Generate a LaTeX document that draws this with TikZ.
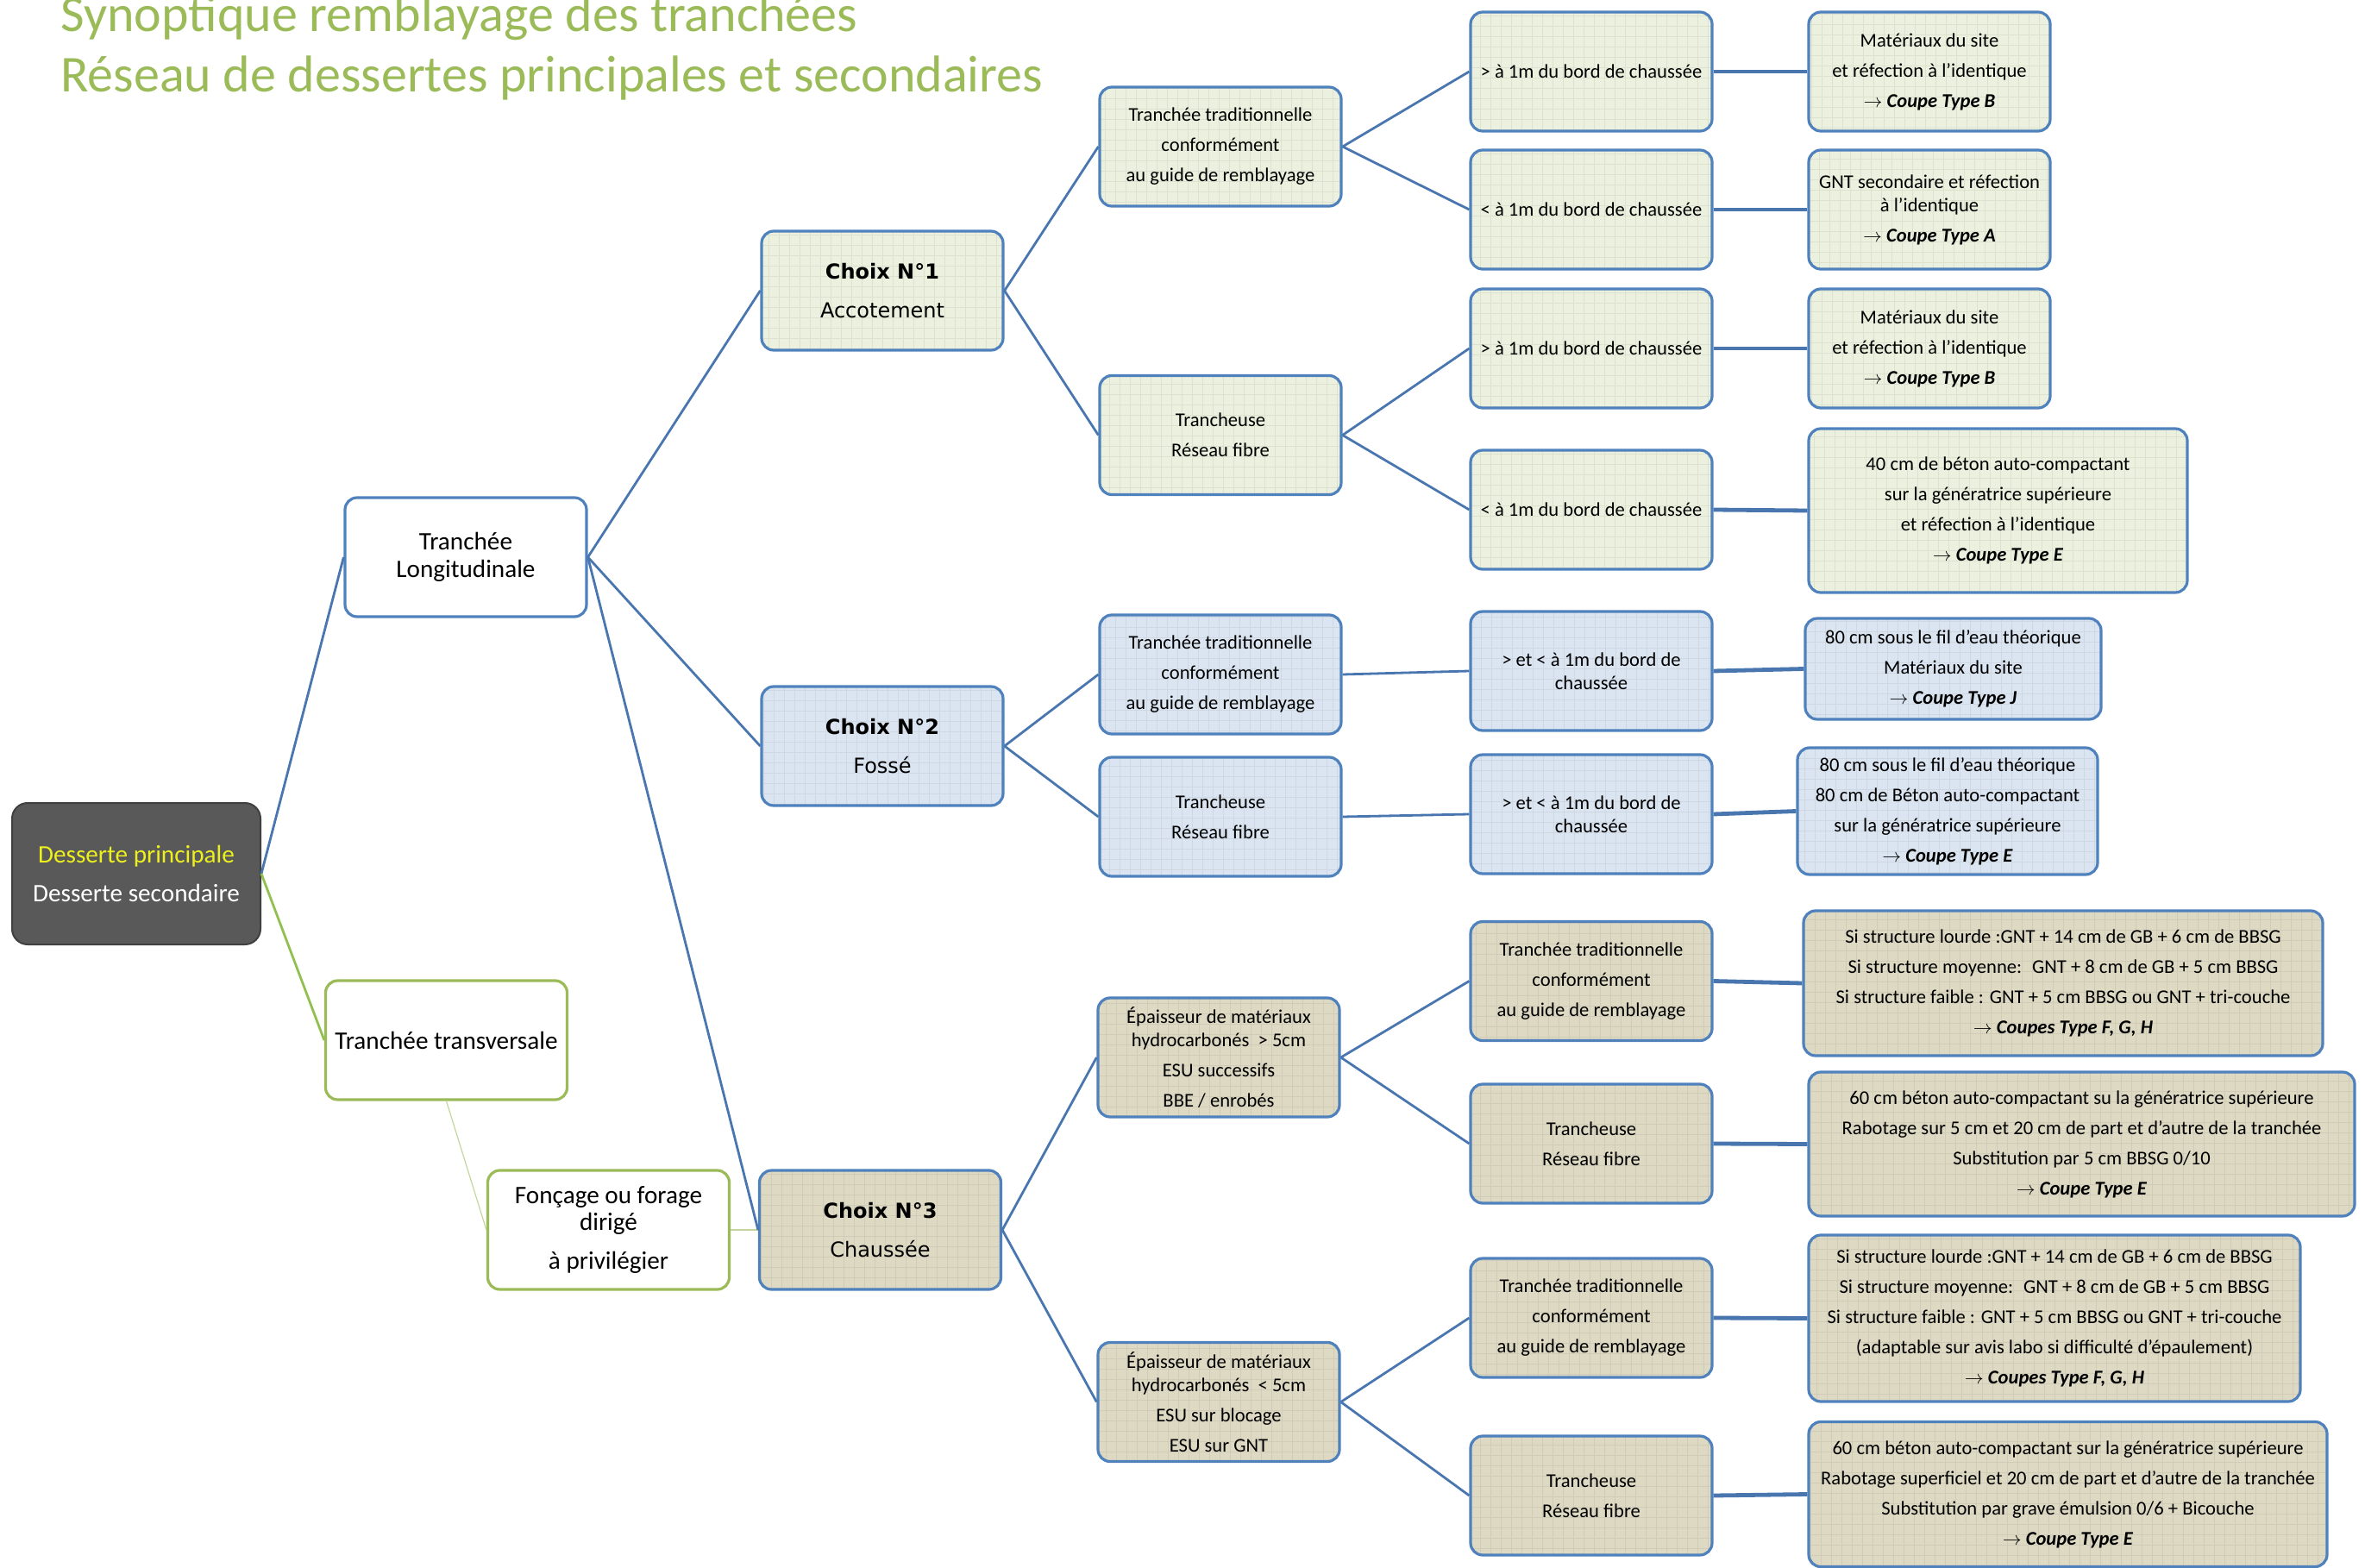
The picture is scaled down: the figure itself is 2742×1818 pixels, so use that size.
\documentclass[tikz,border=0pt]{standalone}
\usepackage{fontspec}
\setmainfont{Carlito}
\newfontfamily\choixfont{DejaVu Sans}
\usetikzlibrary{positioning}

\definecolor{titlegreen}{HTML}{9BBB59}
\definecolor{boxblue}{HTML}{4F81BD}
\definecolor{linkblue}{HTML}{4A76B0}
\definecolor{fillgreen}{HTML}{EBF1DE}
\definecolor{fillblue}{HTML}{DBE5F1}
\definecolor{filltan}{HTML}{DDD9C3}
\definecolor{rootgray}{HTML}{595959}
\definecolor{rootyellow}{HTML}{EEF01E}
\definecolor{linkgreen}{HTML}{92C050}
\definecolor{thingreen}{HTML}{C3D69B}

\newcommand\cptype[1]{$\rightarrow$ \textbf{\textit{#1}}}

\tikzset{
  card/.style={draw=boxblue, line width=1.6pt, rounded corners=7pt, align=center,
    inner sep=2pt, font=\fontsize{11.3}{13.5}\selectfont,
    path picture={\draw[black, opacity=.06, line width=.4pt, step=6pt]
      (path picture bounding box.south west) grid (path picture bounding box.north east);}},
  gcard/.style={card, fill=fillgreen},
  bcard/.style={card, fill=fillblue},
  tcard/.style={card, fill=filltan},
  small/.style={minimum width=140pt, minimum height=69pt},
  choix/.style={small, font=\choixfont\fontsize{12}{14.5}\selectfont},
  plain/.style={draw=#1, fill=white, line width=1.6pt, rounded corners=7pt, align=center,
    minimum width=140pt, minimum height=69pt, font=\fontsize{14.6}{16}\selectfont},
  link/.style={linkblue, line width=1.4pt},
  thick link/.style={linkblue, line width=2.4pt}
}

\begin{document}
\begin{tikzpicture}[x=0.5pt, y=-0.5pt]
\useasboundingbox (0,0) rectangle (2742,1818);

% titre
\node[anchor=base west, inner sep=0, text=titlegreen, font=\fontsize{30}{36}\selectfont] (titre1) at (70,37) {Synoptique remblayage des tranchées};
\node[anchor=base west, inner sep=0, text=titlegreen, font=\fontsize{30}{36}\selectfont] (titre2) at (70,107) {Réseau de dessertes principales et secondaires};

% racine et premier niveau
\node[draw=black!75, fill=rootgray, line width=1pt, rounded corners=9pt, align=center,
  minimum width=144pt, minimum height=82pt, font=\fontsize{14.6}{17}\selectfont] (racine) at (158,1013)
  {\color{rootyellow}Desserte principale\\[5.5pt]\color{white}Desserte secondaire};
\node[plain=boxblue] (longi) at (540,646) {Tranchée\\Longitudinale};
\node[plain=titlegreen] (transv) at (517.5,1206) {Tranchée transversale};
\node[plain=titlegreen, font=\fontsize{14.6}{15.7}\selectfont] (forage) at (705.5,1426) {Fonçage ou forage\\dirigé\\[7pt]à privilégier};

% choix
\node[gcard, choix] (choix1) at (1023,337) {\textbf{Choix N°1}\\[8pt]Accotement};
\node[bcard, choix] (choix2) at (1023,865) {\textbf{Choix N°2}\\[8pt]Fossé};
\node[tcard, choix] (choix3) at (1020.5,1426) {\textbf{Choix N°3}\\[8pt]Chaussée};

% techniques
\node[gcard, small] (tech1) at (1415,170) {Tranchée traditionnelle\\[4pt]conformément\\[4pt]au guide de remblayage};
\node[gcard, small] (tech2) at (1415,504.5) {Trancheuse\\[4pt]Réseau fibre};
\node[bcard, small] (tech3) at (1415,782) {Tranchée traditionnelle\\[4pt]conformément\\[4pt]au guide de remblayage};
\node[bcard, small] (tech4) at (1415,947) {Trancheuse\\[4pt]Réseau fibre};
\node[tcard, small] (tech5) at (1413,1226) {Épaisseur de matériaux\\hydrocarbonés~~>~5cm\\[4pt]ESU successifs\\[4pt]BBE / enrobés};
\node[tcard, small] (tech6) at (1413,1625.5) {Épaisseur de matériaux\\hydrocarbonés~~<~5cm\\[4pt]ESU sur blocage\\[4pt]ESU sur GNT};

% conditions
\node[gcard, small] (cond1) at (1845,83) {> à 1m du bord de chaussée};
\node[gcard, small] (cond2) at (1845,243) {< à 1m du bord de chaussée};
\node[gcard, small] (cond3) at (1845,404) {> à 1m du bord de chaussée};
\node[gcard, small] (cond4) at (1845,591) {< à 1m du bord de chaussée};
\node[bcard, small] (cond5) at (1845,778) {> et < à 1m du bord de\\chaussée};
\node[bcard, small] (cond6) at (1845,944) {> et < à 1m du bord de\\chaussée};
\node[tcard, small] (cond7) at (1845,1137.5) {Tranchée traditionnelle\\[4pt]conformément\\[4pt]au guide de remblayage};
\node[tcard, small] (cond8) at (1845,1326) {Trancheuse\\[4pt]Réseau fibre};
\node[tcard, small] (cond9) at (1845,1528) {Tranchée traditionnelle\\[4pt]conformément\\[4pt]au guide de remblayage};
\node[tcard, small] (cond10) at (1845,1734) {Trancheuse\\[4pt]Réseau fibre};

% coupes types
\node[gcard, small] (coupe1) at (2237,83) {Matériaux du site\\[4pt]et réfection à l’identique\\[4pt]\cptype{Coupe Type B}};
\node[gcard, small] (coupe2) at (2237,243) {GNT secondaire et réfection\\à l’identique\\[4pt]\cptype{Coupe Type A}};
\node[gcard, small] (coupe3) at (2237,404) {Matériaux du site\\[4pt]et réfection à l’identique\\[4pt]\cptype{Coupe Type B}};
\node[gcard, minimum width=219.5pt, minimum height=95pt] (coupe4) at (2316.5,592)
  {40 cm de béton auto-compactant\\[4pt]sur la génératrice supérieure\\[4pt]et réfection à l’identique\\[4pt]\cptype{Coupe Type E}};
\node[bcard, minimum width=171.5pt, minimum height=58.5pt] (coupe5) at (2264.5,775.5)
  {80 cm sous le fil d{\char"0027}eau théorique\\[4pt]Matériaux du site\\[4pt]\cptype{Coupe Type J}};
\node[bcard, minimum width=174pt, minimum height=73.5pt] (coupe6) at (2258,940.5)
  {80 cm sous le fil d{\char"0027}eau théorique\\[4pt]80 cm de Béton auto-compactant\\[4pt]sur la génératrice supérieure\\[4pt]\cptype{Coupe Type E}};
\node[tcard, minimum width=301pt, minimum height=84pt] (coupe7) at (2392,1140)
  {Si structure lourde :GNT + 14 cm de GB + 6 cm de BBSG\\[4pt]Si structure moyenne:~ GNT + 8 cm de GB + 5 cm BBSG\\[4pt]Si structure faible : GNT + 5 cm BBSG ou GNT + tri-couche\\[4pt]\cptype{Coupes Type F, G, H}};
\node[tcard, minimum width=316.5pt, minimum height=83.5pt] (coupe8) at (2413.5,1326.5)
  {60 cm béton auto-compactant su la génératrice supérieure\\[4pt]Rabotage sur 5 cm et 20 cm de part et d’autre de la tranchée\\[4pt]Substitution par 5 cm BBSG 0/10\\[4pt]\cptype{Coupe Type E}};
\node[tcard, minimum width=285pt, minimum height=96.5pt] (coupe9) at (2382,1528.5)
  {Si structure lourde :GNT + 14 cm de GB + 6 cm de BBSG\\[4pt]Si structure moyenne:~ GNT + 8 cm de GB + 5 cm BBSG\\[4pt]Si structure faible : GNT + 5 cm BBSG ou GNT + tri-couche\\[4pt](adaptable sur avis labo si difficulté d’épaulement)\\[4pt]\cptype{Coupes Type F, G, H}};
\node[tcard, minimum width=300.5pt, minimum height=84pt] (coupe10) at (2397.5,1732.5)
  {60 cm béton auto-compactant sur la génératrice supérieure\\[4pt]Rabotage superficiel et 20 cm de part et d’autre de la tranchée\\[4pt]Substitution par grave émulsion 0/6 + Bicouche\\[4pt]\cptype{Coupe Type E}};

% liaisons
\draw[link] (racine.east) -- (longi.west);
\draw[linkgreen, line width=1.4pt] (racine.east) -- (transv.west);
\draw[thingreen, line width=.6pt] (transv.south) -- (forage.west);
\draw[thingreen, line width=.6pt] (forage.east) -- (choix3.west);
\foreach \a/\b in {longi/choix1, longi/choix2, longi/choix3,
  choix1/tech1, choix1/tech2, choix2/tech3, choix2/tech4, choix3/tech5, choix3/tech6,
  tech1/cond1, tech1/cond2, tech2/cond3, tech2/cond4, tech3/cond5, tech4/cond6,
  tech5/cond7, tech5/cond8, tech6/cond9, tech6/cond10}
  \draw[link] (\a.east) -- (\b.west);
\foreach \i in {1,...,10}
  \draw[thick link] (cond\i.east) -- (coupe\i.west);
\end{tikzpicture}
\end{document}
